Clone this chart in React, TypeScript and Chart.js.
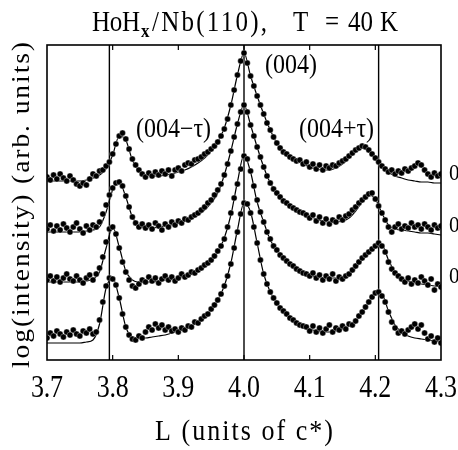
import React, { useEffect, useRef } from "react";
import { Chart, registerables } from "chart.js";

Chart.register(...registerables);

// L grid of the measured points (units of c*)
const L = [
  3.700, 3.705, 3.710, 3.715, 3.720, 3.725, 3.730, 3.735, 3.740, 3.745,
  3.750, 3.755, 3.760, 3.765, 3.770, 3.775, 3.780, 3.785, 3.790, 3.795,
  3.800, 3.805, 3.810, 3.815, 3.820, 3.825, 3.830, 3.835, 3.840, 3.845,
  3.850, 3.855, 3.860, 3.865, 3.870, 3.875, 3.880, 3.885, 3.890, 3.895,
  3.900, 3.905, 3.910, 3.915, 3.920, 3.925, 3.930, 3.935, 3.940, 3.945,
  3.950, 3.955, 3.960, 3.965, 3.970, 3.975, 3.980, 3.985, 3.990, 3.995,
  4.000, 4.005, 4.010, 4.015, 4.020, 4.025, 4.030, 4.035, 4.040, 4.045,
  4.050, 4.055, 4.060, 4.065, 4.070, 4.075, 4.080, 4.085, 4.090, 4.095,
  4.100, 4.105, 4.110, 4.115, 4.120, 4.125, 4.130, 4.135, 4.140, 4.145,
  4.150, 4.155, 4.160, 4.165, 4.170, 4.175, 4.180, 4.185, 4.190, 4.195,
  4.200, 4.205, 4.210, 4.215, 4.220, 4.225, 4.230, 4.235, 4.240, 4.245,
  4.250, 4.255, 4.260, 4.265, 4.270, 4.275, 4.280, 4.285, 4.290, 4.295,
  4.300,
];

// measured log(intensity), offset curves (arb. units), top to bottom
const P1 = [
  183, 180, 185, 181, 186, 182, 179, 184, 180, 176,
  174, 177, 175, 181, 186, 184, 189, 190, 194, 198,
  206, 216, 224, 227, 221, 211, 201, 195, 190, 186,
  183, 187, 184, 188, 185, 189, 186, 190, 184, 190,
  192, 189, 195, 197, 196, 200, 201, 203, 206, 208,
  211, 214, 218, 224, 231, 241, 255, 270, 285, 299,
  307, 297, 284, 274, 264, 255, 246, 237, 230, 223,
  217, 212, 208, 206, 203, 201, 199, 200, 196, 198,
  193, 196, 191, 195, 190, 194, 192, 195, 194, 197,
  199, 201, 204, 207, 210, 212, 214, 213, 210, 206,
  202, 198, 194, 191, 188, 190, 186, 189, 187, 191,
  189, 192, 194, 197, 195, 190, 186, 183, 187, 184,
  186,
];
const P2 = [
  131, 135, 129, 134, 130, 136, 132, 128, 133, 137,
  131, 127, 134, 130, 135, 133, 138, 146, 155, 165,
  172, 177, 178, 174, 164, 153, 143, 137, 133, 136,
  132, 135, 131, 137, 134, 130, 136, 133, 138, 135,
  139, 137, 141, 140, 143, 145, 147, 150, 153, 157,
  160, 165, 170, 176, 185, 196, 209, 223, 236, 248,
  255, 248, 235, 224, 213, 203, 193, 184, 177, 171,
  167, 163, 159, 157, 154, 152, 150, 148, 147, 145,
  142, 145, 139, 143, 137, 141, 136, 140, 138, 143,
  140, 144, 146, 150, 153, 157, 160, 163, 166, 167,
  161, 154, 147, 140, 133, 128, 133, 136, 131, 134,
  132, 137, 133, 135, 131, 136, 133, 130, 135, 132,
  134,
];
const P3 = [
  80, 84, 79, 83, 78, 82, 86, 81, 79, 84,
  80, 77, 82, 85, 80, 86, 92, 103, 118, 131,
  133, 126, 112, 98, 88, 80, 74, 72, 76, 80,
  78, 83, 79, 82, 77, 81, 84, 80, 83, 79,
  82, 86, 83, 85, 88, 87, 90, 92, 95, 97,
  100, 104, 109, 114, 121, 133, 147, 162, 176, 191,
  204, 201, 189, 174, 160, 148, 138, 128, 121, 114,
  110, 105, 102, 99, 96, 94, 91, 89, 87, 86,
  84, 87, 82, 85, 80, 84, 81, 86, 79, 83,
  81, 84, 86, 90, 94, 98, 102, 105, 108, 111,
  114, 117, 114, 108, 98, 91, 87, 84, 81, 78,
  82, 76, 80, 77, 83, 79, 75, 81, 70, 76,
  73,
];
const P4 = [
  22, 27, 24, 29, 26, 23, 28, 25, 30, 26,
  24, 29, 27, 31, 26, 28, 40, 58, 74, 82,
  81, 75, 62, 46, 33, 25, 21, 20, 24, 22,
  28, 33, 30, 36, 32, 35, 30, 33, 29, 31,
  28, 32, 30, 34, 33, 38, 37, 41, 44, 46,
  51, 55, 60, 66, 74, 84, 96, 112, 128, 146,
  157, 156, 147, 133, 117, 100, 86, 76, 68, 62,
  57, 52, 49, 46, 42, 40, 37, 35, 34, 33,
  29, 34, 28, 32, 27, 31, 35, 28, 32, 30,
  34, 31, 36, 35, 39, 44, 48, 53, 58, 63,
  67, 68, 64, 58, 48, 38, 32, 27, 29, 26,
  30, 33, 36, 31, 35, 27, 21, 24, 18, 22,
  17,
];

// L grid of the fitted curves
const LF = [
  3.70, 3.71, 3.72, 3.73, 3.74, 3.75, 3.76, 3.77, 3.78, 3.79,
  3.80, 3.81, 3.82, 3.83, 3.84, 3.85, 3.86, 3.87, 3.88, 3.89,
  3.90, 3.91, 3.92, 3.93, 3.94, 3.95, 3.96, 3.97, 3.98, 3.99,
  4.00, 4.01, 4.02, 4.03, 4.04, 4.05, 4.06, 4.07, 4.08, 4.09,
  4.10, 4.11, 4.12, 4.13, 4.14, 4.15, 4.16, 4.17, 4.18, 4.19,
  4.20, 4.21, 4.22, 4.23, 4.24, 4.25, 4.26, 4.27, 4.28, 4.29,
  4.30,
];
const F1 = [
  179, 179, 179, 179, 179, 179, 180, 182, 185, 191,
  205, 224, 220, 200, 189, 185, 184, 184, 185, 186,
  188, 190, 193, 197, 202, 209, 218, 232, 255, 285,
  307, 284, 264, 246, 230, 217, 208, 203, 199, 196,
  193, 191, 190, 190, 192, 196, 202, 209, 213, 210,
  202, 194, 188, 184, 182, 180, 179, 178, 178, 177,
  177,
];
const F2 = [
  128, 128, 128, 128, 128, 128, 129, 130, 133, 148,
  170, 178, 163, 143, 134, 132, 132, 133, 134, 135,
  137, 139, 142, 145, 150, 157, 167, 185, 209, 236,
  255, 235, 213, 193, 177, 167, 159, 154, 150, 147,
  144, 141, 139, 138, 138, 139, 142, 149, 158, 165,
  161, 147, 135, 131, 130, 129, 128, 127, 127, 126,
  125,
];
const F3 = [
  78, 78, 78, 78, 78, 78, 79, 81, 88, 112,
  133, 113, 89, 80, 78, 78, 78, 79, 80, 81,
  82, 84, 86, 89, 93, 99, 108, 122, 145, 178,
  205, 188, 158, 138, 120, 110, 102, 97, 92, 88,
  85, 83, 82, 82, 82, 83, 86, 92, 100, 108,
  115, 115, 100, 88, 82, 79, 77, 76, 75, 74,
  73,
];
const F4 = [
  17, 17, 17, 17, 17, 17, 18, 20, 36, 72,
  82, 62, 33, 23, 22, 22, 23, 24, 25, 27,
  29, 31, 34, 38, 43, 50, 60, 74, 97, 130,
  157, 148, 117, 86, 68, 57, 49, 43, 38, 34,
  31, 29, 28, 28, 29, 31, 34, 39, 47, 58,
  67, 66, 49, 35, 28, 24, 22, 21, 20, 19,
  18,
];

const POINTS = [P1, P2, P3, P4];
const FITS = [F1, F2, F3, F4];

const X_MIN = 3.7;
const X_MAX = 4.3;
const Y_MIN = 0;
const Y_MAX = 315;

const xTicks = [3.7, 3.8, 3.9, 4.0, 4.1, 4.2, 4.3];
const xTickLabels = ["3.7", "3.8", "3.9", "4.0", "4.1", "4.2", "4.3"];
const innerTicks = [3.8, 3.9, 4.0, 4.1, 4.2];
const guideL = [3.795, 4.0, 4.205];

const peakLabels = ["(004)", "(004\u2212\u03c4)", "(004+\u03c4)"];
const peakLabelL = [4.0716, 3.8926, 4.1409];
const peakLabelH = [287, 223, 223];

const sideLabels = ["0", "0", "0"];
const sideLabelH = [180, 128, 77];

const xTitle = "L (units of c*)";
const yTitle = "log(intensity) (arb. units)";

const FONT = '"Liberation Serif", "Times New Roman", serif';

// draws text with its left edge (or centre) at x; if width > 0, the letters are
// spread so that the text spans that width; sy stretches it vertically
function spreadText(
  ctx: CanvasRenderingContext2D,
  text: string,
  x: number,
  y: number,
  size: number,
  width: number,
  sy: number,
  align: "left" | "center" = "left",
  weight = "normal"
) {
  ctx.save();
  ctx.font = `${weight} ${size}px ${FONT}`;
  ctx.textAlign = "left";
  ctx.textBaseline = "alphabetic";
  ctx.fillStyle = "#000";
  (ctx as any).letterSpacing = "0px";
  const w = ctx.measureText(text).width;
  const n = Array.from(text).length;
  const sp = width > 0 && n > 1 ? (width - w) / (n - 1) : 0;
  const drawnW = width > 0 ? width : w;
  const x0 = align === "center" ? x - drawnW / 2 : x;
  (ctx as any).letterSpacing = `${sp}px`;
  ctx.translate(x0, y);
  ctx.scale(1, sy);
  ctx.fillText(text, 0, 0);
  ctx.restore();
}

const decorPlugin = {
  id: "decor",
  afterDraw(chart: any) {
    const { ctx, chartArea } = chart;
    const xs = chart.scales.x;
    const ys = chart.scales.y;
    const { left, right, top, bottom } = chartArea;

    ctx.save();
    ctx.strokeStyle = "#000";
    ctx.lineWidth = 1.6;
    ctx.strokeRect(left, top, right - left, bottom - top);

    ctx.lineWidth = 1.2;
    for (const v of innerTicks) {
      const x = xs.getPixelForValue(v);
      ctx.beginPath();
      ctx.moveTo(x, bottom);
      ctx.lineTo(x, bottom - 5);
      ctx.moveTo(x, top);
      ctx.lineTo(x, top + 5);
      ctx.stroke();
    }
    ctx.restore();

    // tick labels
    xTicks.forEach((v, i) => {
      spreadText(ctx, xTickLabels[i], xs.getPixelForValue(v), bottom + 37, 26, 32, 1.2, "center");
    });

    // x axis title
    spreadText(ctx, xTitle, 155, bottom + 80, 26, 178, 1.15, "left");

    // y axis title (rotated), spanning about y = 42..368
    ctx.save();
    ctx.font = `25px ${FONT}`;
    (ctx as any).letterSpacing = "0px";
    const yw = ctx.measureText(yTitle).width;
    const yn = Array.from(yTitle).length;
    const ysp = (326 - yw * 1.1) / (yn - 1) / 1.1;
    (ctx as any).letterSpacing = `${ysp}px`;
    ctx.translate(29, 368);
    ctx.rotate(-Math.PI / 2);
    ctx.scale(1.1, 1);
    ctx.textAlign = "left";
    ctx.textBaseline = "alphabetic";
    ctx.fillStyle = "#000";
    ctx.fillText(yTitle, 0, 0);
    ctx.restore();

    // chart title: HoH_x/Nb(110), T = 40 K
    const ty = 31;
    spreadText(ctx, "HoH", 92, ty, 25, 48, 1.15);
    spreadText(ctx, "x", 141, ty + 6, 17, 0, 1.1, "left", "bold");
    spreadText(ctx, "/Nb(110),", 152, ty, 25, 115, 1.15);
    spreadText(ctx, "T", 293, ty, 25, 0, 1.15);
    spreadText(ctx, "=", 325, ty, 25, 0, 1.15);
    spreadText(ctx, "40", 348, ty, 25, 25, 1.15);
    spreadText(ctx, "K", 380, ty, 25, 0, 1.15);

    // peak labels
    peakLabels.forEach((t, i) => {
      spreadText(ctx, t, xs.getPixelForValue(peakLabelL[i]), ys.getPixelForValue(peakLabelH[i]), 24, 0, 1.1, "center");
    });

    // side labels (cut at the right edge)
    sideLabels.forEach((t, i) => {
      spreadText(ctx, t, right + 8, ys.getPixelForValue(sideLabelH[i]), 21, 0, 1.1, "left");
    });
  },
};

export default function App() {
  const ref = useRef<HTMLCanvasElement>(null);

  useEffect(() => {
    if (!ref.current) return;
    const datasets: any[] = [];
    POINTS.forEach((P) => {
      datasets.push({
        data: L.map((x, i) => ({ x, y: P[i] })),
        showLine: false,
        pointRadius: 3,
        pointBackgroundColor: "#000",
        pointBorderColor: "rgba(255,255,255,0.8)",
        pointBorderWidth: 0.4,
      });
    });
    FITS.forEach((F) => {
      datasets.push({
        data: LF.map((x, i) => ({ x, y: F[i] })),
        showLine: true,
        borderColor: "#000",
        borderWidth: 1.2,
        pointRadius: 0,
        cubicInterpolationMode: "monotone",
      });
    });
    guideL.forEach((g) => {
      datasets.push({
        data: [
          { x: g, y: Y_MIN },
          { x: g, y: Y_MAX },
        ],
        showLine: true,
        borderColor: "#000",
        borderWidth: 1.4,
        pointRadius: 0,
      });
    });

    const chart = new Chart(ref.current, {
      type: "scatter",
      data: { datasets },
      options: {
        animation: false,
        responsive: false,
        devicePixelRatio: 1,
        events: [],
        layout: { padding: { left: 47, right: 17, top: 45, bottom: 90 } },
        plugins: {
          legend: { display: false },
          tooltip: { enabled: false },
          title: { display: false },
        },
        scales: {
          x: { type: "linear", min: X_MIN, max: X_MAX, display: false },
          y: { type: "linear", min: Y_MIN, max: Y_MAX, display: false },
        },
      },
      plugins: [decorPlugin],
    });
    return () => chart.destroy();
  }, []);

  return (
    <div style={{ position: "absolute", left: 0, top: 0, width: 458, height: 450, background: "#fff" }}>
      <canvas ref={ref} width={458} height={450} style={{ display: "block" }} />
    </div>
  );
}
